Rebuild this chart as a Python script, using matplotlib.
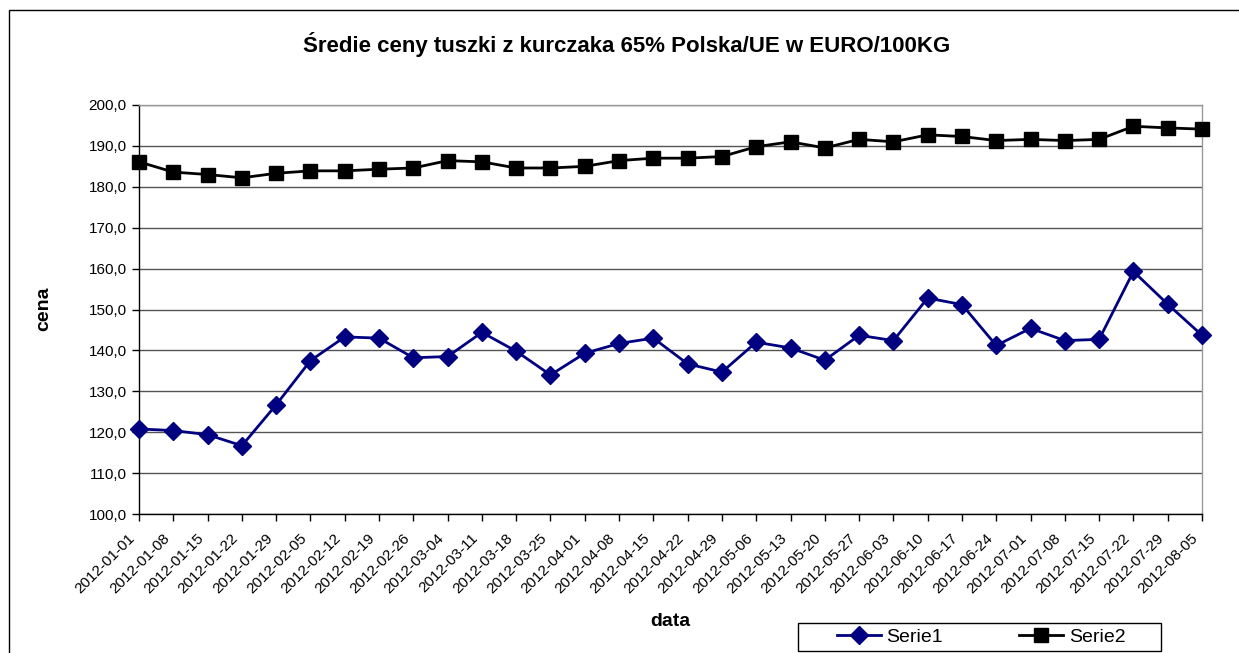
import matplotlib
matplotlib.use("Agg")
import matplotlib.pyplot as plt
from matplotlib.patches import Rectangle
from matplotlib.transforms import ScaledTranslation

dates = ["2012-01-01", "2012-01-08", "2012-01-15", "2012-01-22", "2012-01-29",
         "2012-02-05", "2012-02-12", "2012-02-19", "2012-02-26", "2012-03-04",
         "2012-03-11", "2012-03-18", "2012-03-25", "2012-04-01", "2012-04-08",
         "2012-04-15", "2012-04-22", "2012-04-29", "2012-05-06", "2012-05-13",
         "2012-05-20", "2012-05-27", "2012-06-03", "2012-06-10", "2012-06-17",
         "2012-06-24", "2012-07-01", "2012-07-08", "2012-07-15", "2012-07-22",
         "2012-07-29", "2012-08-05"]

serie1 = [120.8, 120.4, 119.4, 116.7, 126.7, 137.5, 143.3, 143.0, 138.2, 138.5,
          144.4, 139.8, 134.0, 139.3, 141.7, 143.0, 136.7, 134.7, 142.0, 140.6,
          137.6, 143.7, 142.4, 152.8, 151.2, 141.2, 145.4, 142.4, 142.7, 159.3,
          151.3, 143.7]

serie2 = [186.1, 183.6, 183.0, 182.2, 183.3, 183.9, 183.9, 184.3, 184.6, 186.4,
          186.1, 184.6, 184.6, 185.0, 186.4, 187.0, 187.0, 187.4, 189.8, 191.0,
          189.5, 191.6, 191.0, 192.7, 192.3, 191.3, 191.6, 191.3, 191.6, 194.8,
          194.4, 194.1]

yticks = [100, 110, 120, 130, 140, 150, 160, 170, 180, 190, 200]

title = "Średie ceny tuszki z kurczaka 65% Polska/UE w EURO/100KG"

plt.rcParams['font.family'] = ['Liberation Sans', 'DejaVu Sans']

W, H = 1239, 653
fig = plt.figure(figsize=(W / 100, H / 100), dpi=100)
fig.patch.set_facecolor('white')

# outer chart border (extends beyond image to right/bottom)
fig.add_artist(Rectangle((9 / W, -0.05), 1.2, 1 - 10 / H + 0.05,
                         transform=fig.transFigure, fill=False,
                         edgecolor='black', linewidth=1.0))

ax = fig.add_axes([139 / W, 1 - 514 / H, (1202 - 139) / W, (514 - 105) / H])

x = list(range(len(dates)))
ax.plot(x, serie1, color='#000080', linewidth=2.0, marker='D', markersize=9.3,
        label='Serie1', clip_on=False, zorder=3)
ax.plot(x, serie2, color='black', linewidth=2.0, marker='s', markersize=10.5,
        label='Serie2', clip_on=False, zorder=4)

ax.set_xlim(0, len(dates) - 1)
ax.set_ylim(100, 200)
ax.set_yticks(yticks)
ax.set_yticklabels([f"{v:.1f}".replace('.', ',') for v in yticks], fontsize=11)
ax.set_xticks(x)
ax.set_xticklabels(dates, rotation=45, ha='right', va='center',
                   rotation_mode='anchor', fontsize=11)
ax.tick_params(axis='both', direction='out', length=5, width=1, color='black')
ax.tick_params(axis='y', pad=4)
ax.tick_params(axis='x', pad=11)

ax.grid(axis='y', color='#555555', linewidth=1.0)
ax.set_axisbelow(True)
for side in ['top', 'right']:
    ax.spines[side].set_color('#999999')
    ax.spines[side].set_linewidth(1.0)
for side in ['left', 'bottom']:
    ax.spines[side].set_color('black')
    ax.spines[side].set_linewidth(1.0)

fig.text(627 / W, 1 - 52 / H, title, ha='center', va='baseline',
         fontsize=16, fontweight='bold')
fig.text(44 / W, 1 - 309 / H, 'cena', ha='center', va='center', rotation=90,
         fontsize=14, fontweight='bold')
fig.text(670 / W, 1 - 622 / H, 'data', ha='center', va='center',
         fontsize=14, fontweight='bold')

# legend frame
fig.add_artist(Rectangle((798 / W, 1 - 651 / H), (1161 - 798) / W, (651 - 623) / H,
                         transform=fig.transFigure, fill=True, facecolor='white',
                         edgecolor='black', linewidth=1.0))
leg = fig.legend(loc='center', bbox_to_anchor=(981 / W, 1 - 637 / H),
                 ncol=2, fontsize=14, frameon=False,
                 handlelength=2.26, columnspacing=3.9,
                 borderpad=0.0, handletextpad=0.3)

# shift x tick labels slightly left like the reference
shift = ScaledTranslation(-6 / 100, 0, fig.dpi_scale_trans)
for lbl in ax.get_xticklabels():
    lbl.set_transform(lbl.get_transform() + shift)

fig.savefig('out.png', dpi=100)
